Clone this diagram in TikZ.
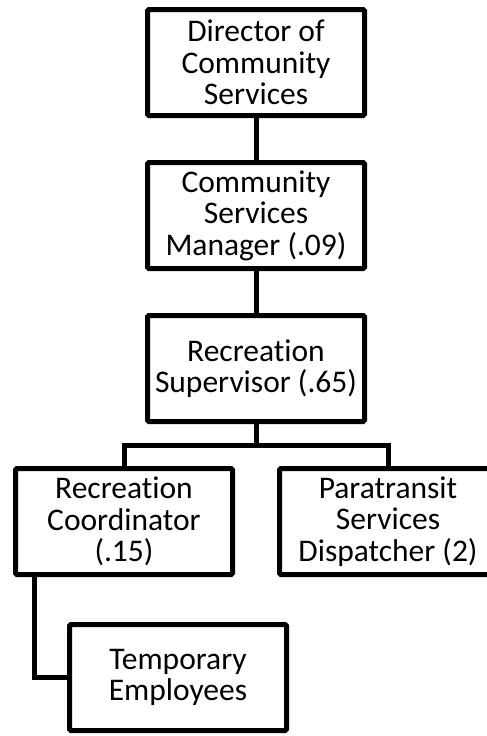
\documentclass[tikz,border=0pt]{standalone}
\usepackage{fontspec}
\setmainfont{Carlito}[Ligatures=NoCommon]
\usepackage{tikz}
\usetikzlibrary{positioning}
\tikzset{
  unit/.style={rectangle, draw, line width=5pt, rounded corners=1.5pt,
               minimum width=217pt, minimum height=106pt, inner sep=0pt,
               align=center, font=\fontsize{31.5}{31.5}\selectfont},
  link/.style={line width=5pt}
}
\begin{document}
\begin{tikzpicture}[x=1pt, y=1pt, node distance=42pt]
    \clip (0,0) rectangle (487,-736);
    \node[unit] (dir) at (256,-62.5) {Director of\\Community\\Services};
    \node[unit, below=of dir] (mgr) {Community\\Services\\Manager (.09)};
    \node[unit, below=of mgr] (sup) {Recreation\\Supervisor (.65)};
    \node[unit, below=of sup, xshift=-132pt] (coord) {Recreation\\Coordinator\\(.15)};
    \node[unit, below=of sup, xshift=132pt] (para) {Paratransit\\Services\\Dispatcher (2)};
    \node[unit, below=45pt of coord, xshift=54pt] (temp) {Temporary\\Employees};
    \foreach \a/\b in {dir/mgr, mgr/sup} \draw[link] (\a) -- (\b);
    \draw[link] (sup.south) -- ++(0,-21) coordinate (fork);
    \draw[link] (fork) -| (coord.north);
    \draw[link] (fork) -| (para.north);
    \draw[link] ([xshift=21.5pt]coord.south west) |- (temp.west);
  \end{tikzpicture}
\end{document}
